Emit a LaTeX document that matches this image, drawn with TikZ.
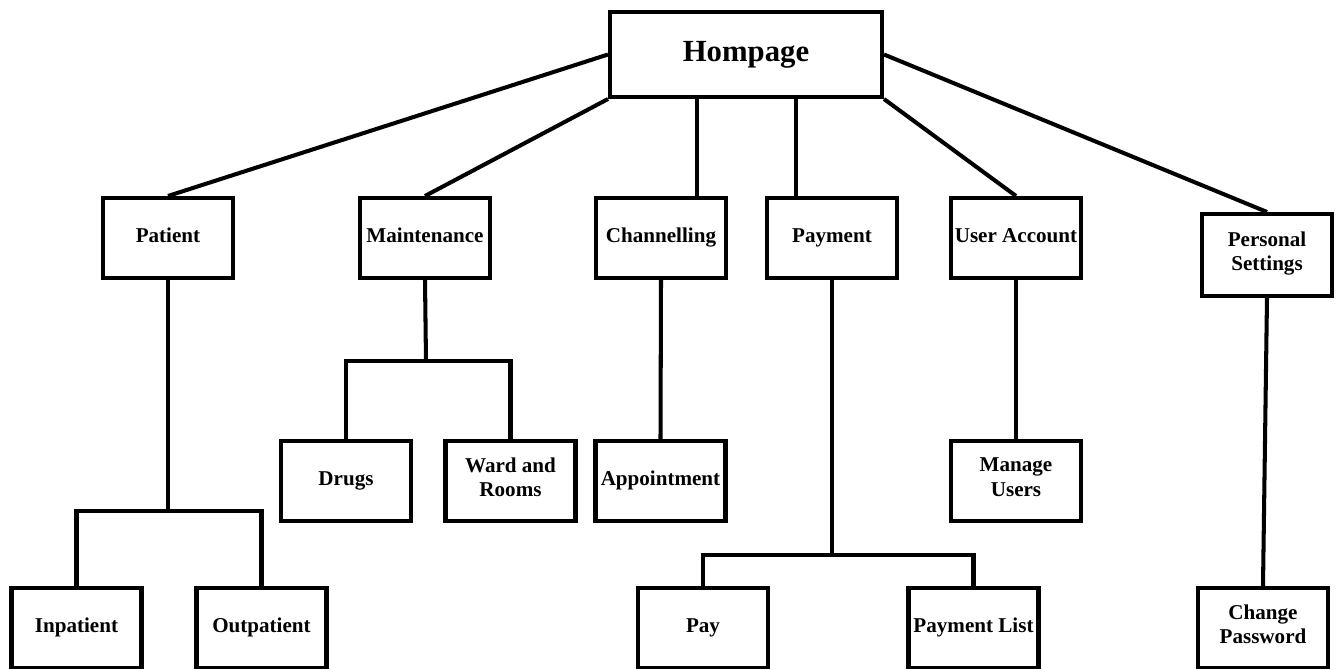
\documentclass[tikz,border=0pt]{standalone}
\usepackage{fontspec}
\setmainfont{Liberation Serif}

\begin{document}
\begin{tikzpicture}[x=0.02cm, y=-0.02cm, line width=2.3pt,
		box/.style={draw, rectangle, minimum width=2.6cm, minimum height=1.6cm, inner sep=2pt, align=center,
			execute at begin node=\strut, execute at end node=\strut, font=\bfseries\fontsize{12}{14}\selectfont}]
		\useasboundingbox (0,0) rectangle (1340,669);

		% radice
		\node[box, minimum width=5.44cm, minimum height=1.7cm, font=\bfseries\fontsize{17.5}{20}\selectfont] (home) at (746,54.5) {Hompage};

		% primo livello
		\node[box] (patient) at (168,238) {Patient};
		\node[box] (maint) at (425,238) {Maintenance};
		\node[box] (chan) at (661,238) {Channelling};
		\node[box] (payment) at (832,238) {Payment};
		\node[box] (user) at (1016,238) {User Account};
		\node[box, minimum height=1.64cm] (pers) at (1267,255) {Personal\\Settings};

		% secondo livello
		\node[box] (drugs) at (346,481) {Drugs};
		\node[box] (ward) at (510.5,481) {Ward and\\Rooms};
		\node[box] (appt) at (660.5,481) {Appointment};
		\node[box] (manage) at (1016,481) {Manage\\Users};

		% terzo livello
		\node[box] (inpat) at (76.5,628) {Inpatient};
		\node[box] (outpat) at (261.5,628) {Outpatient};
		\node[box] (pay) at (703,628) {Pay};
		\node[box] (plist) at (973.5,628) {Payment List};
		\node[box] (chpw) at (1263,628) {Change\\Password};

		% collegamenti dalla radice
		\draw (home.west) -- (patient.north);
		\draw (home.south west) -- (maint.north);
		\draw ([xshift=0.72cm]chan.north) -- ([xshift=0.72cm]chan.north |- home.south);
		\draw ([xshift=-0.72cm]payment.north) -- ([xshift=-0.72cm]payment.north |- home.south);
		\draw (home.south east) -- (user.north);
		\draw (home.east) -- (pers.north);

		% diramazioni
		\coordinate (pj) at (168,511);
		\coordinate (mj) at (426,361);
		\coordinate (yj) at (832,555);
		\draw (patient.south) -- (pj);
		\draw (inpat.north) |- (pj) -| (outpat.north);
		\draw (maint.south) -- (mj);
		\draw (drugs.north) |- (mj) -| (ward.north);
		\draw (chan.south) -- (appt.north);
		\draw (payment.south) -- (yj);
		\draw (pay.north) |- (yj) -| (plist.north);
		\draw (user.south) -- (manage.north);
		\draw (pers.south) -- (chpw.north);
	\end{tikzpicture}
\end{document}
